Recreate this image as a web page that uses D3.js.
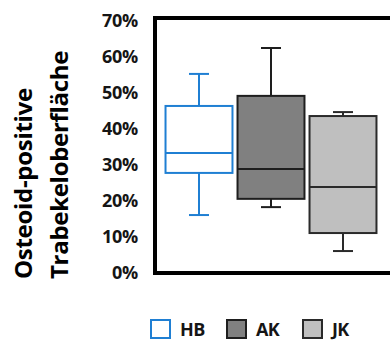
<!DOCTYPE html>
<html>
<head>
<meta charset="utf-8">
<script src="https://cdn.jsdelivr.net/npm/d3@7"></script>
<style>
  body { margin: 0; background: #fff; }
  svg { display: block; }
</style>
</head>
<body>
<script>
// values (percent)
const groups = ["HB", "AK", "JK"];
const whiskerLow = [16.1, 18.3, 6.1];
const q1 = [27.8, 20.6, 11.1];
const median = [33.3, 28.9, 23.9];
const q3 = [46.4, 49.2, 43.6];
const whiskerHigh = [55.3, 62.5, 44.7];
const yTicks = [0, 10, 20, 30, 40, 50, 60, 70];
const titleLines = ["Osteoid-positive", "Trabekeloberfläche"];

const w = 390;
const h = 345;

const fills = { HB: "#ffffff", AK: "#808080", JK: "#bfbfbf" };
const strokes = { HB: "#1f7fd3", AK: "#1e1e1e", JK: "#2a2a2a" };

const svg = d3.select("body")
  .append("svg")
  .attr("width", w)
  .attr("height", h);

const y = d3.scaleLinear().domain([0, 70]).range([273, 21]);
const x = d3.scaleBand()
  .domain(groups)
  .range([163, 379])
  .paddingInner(0.07)
  .paddingOuter(0.035);

const data = groups.map((g, i) => ({
  name: g,
  lo: whiskerLow[i], q1: q1[i], med: median[i], q3: q3[i], hi: whiskerHigh[i]
}));

// frame
const frameTop = y(70) - 3;
svg.append("path")
  .attr("d", `M${w + 5},${frameTop}H155V273H${w + 5}`)
  .attr("fill", "none")
  .attr("stroke", "#000")
  .attr("stroke-width", 4);

// y axis labels
const yAxis = svg.append("g")
  .attr("transform", "translate(140,0)")
  .call(d3.axisLeft(y).tickValues(yTicks).tickSize(0).tickPadding(2).tickFormat(d => d + "%"));
yAxis.select(".domain").remove();
yAxis.selectAll("text")
  .style("font-family", "'Open Sans', sans-serif")
  .style("font-weight", "bold")
  .style("font-size", "18px")
  .style("letter-spacing", "-0.3px")
  .attr("fill", "#151515");

// boxes
const box = svg.selectAll(".box")
  .data(data)
  .enter()
  .append("g")
  .attr("class", "box");

const capW = 20;

box.append("line")
  .attr("x1", d => x(d.name) + x.bandwidth() / 2)
  .attr("x2", d => x(d.name) + x.bandwidth() / 2)
  .attr("y1", d => y(d.hi))
  .attr("y2", d => y(d.q3))
  .attr("stroke", d => strokes[d.name])
  .attr("stroke-width", 2);

box.append("line")
  .attr("x1", d => x(d.name) + x.bandwidth() / 2)
  .attr("x2", d => x(d.name) + x.bandwidth() / 2)
  .attr("y1", d => y(d.q1))
  .attr("y2", d => y(d.lo))
  .attr("stroke", d => strokes[d.name])
  .attr("stroke-width", 2);

["hi", "lo"].forEach(k => {
  box.append("line")
    .attr("x1", d => x(d.name) + x.bandwidth() / 2 - capW / 2)
    .attr("x2", d => x(d.name) + x.bandwidth() / 2 + capW / 2)
    .attr("y1", d => y(d[k]))
    .attr("y2", d => y(d[k]))
    .attr("stroke", d => strokes[d.name])
    .attr("stroke-width", 2);
});

box.append("rect")
  .attr("x", d => x(d.name))
  .attr("y", d => y(d.q3))
  .attr("width", x.bandwidth())
  .attr("height", d => y(d.q1) - y(d.q3))
  .attr("fill", d => fills[d.name])
  .attr("stroke", d => strokes[d.name])
  .attr("stroke-width", 2);

box.append("line")
  .attr("x1", d => x(d.name))
  .attr("x2", d => x(d.name) + x.bandwidth())
  .attr("y1", d => y(d.med))
  .attr("y2", d => y(d.med))
  .attr("stroke", d => strokes[d.name])
  .attr("stroke-width", 2);

// y title, two rotated lines
svg.append("g")
  .selectAll("text")
  .data(titleLines)
  .enter()
  .append("text")
  .attr("transform", (d, i) => `translate(${32 + i * 36},279) rotate(-90)`)
  .attr("text-anchor", "start")
  .style("font-family", "'Open Sans', sans-serif")
  .style("font-weight", "bold")
  .style("font-size", "24px")
  .style("letter-spacing", "-0.3px")
  .attr("fill", "#000")
  .text(d => d);

// legend
const legendX = [151, 227, 303];
const legend = svg.selectAll(".legend-item")
  .data(groups)
  .enter()
  .append("g")
  .attr("class", "legend-item")
  .attr("transform", (d, i) => `translate(${legendX[i]},320)`);

legend.append("rect")
  .attr("width", 19)
  .attr("height", 18)
  .attr("fill", d => fills[d])
  .attr("stroke", d => strokes[d])
  .attr("stroke-width", 2);

legend.append("text")
  .attr("x", 29)
  .attr("y", 16)
  .style("font-family", "'Open Sans', sans-serif")
  .style("font-weight", "bold")
  .style("font-size", "18px")
  .style("letter-spacing", "-0.6px")
  .attr("fill", "#151515")
  .text(d => d);
</script>
</body>
</html>
